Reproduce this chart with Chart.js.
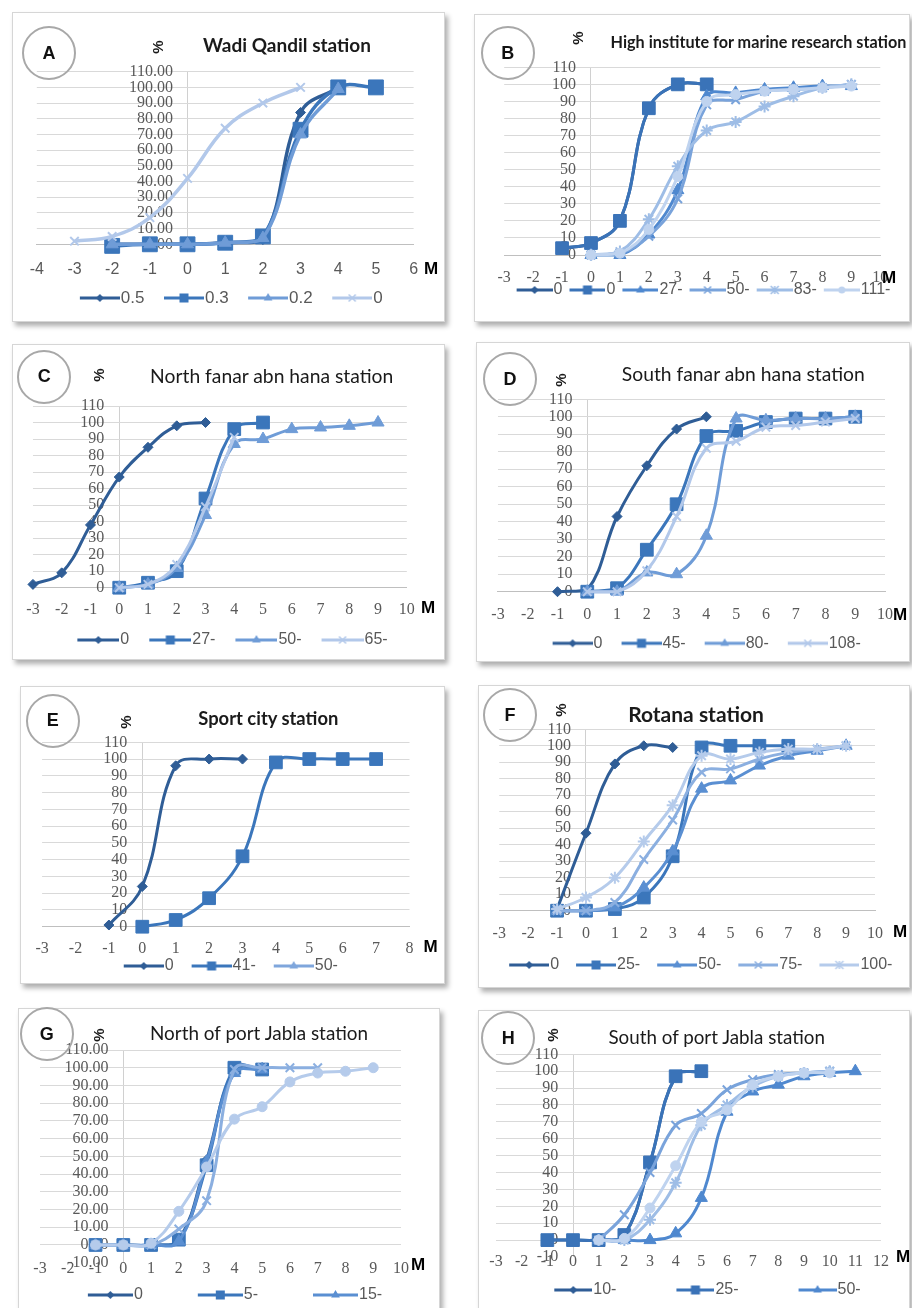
<!DOCTYPE html>
<html>
<head>
<meta charset="utf-8">
<script src="https://cdn.jsdelivr.net/npm/chart.js@4.4.1/dist/chart.umd.min.js"></script>
<style>
html,body{margin:0;padding:0;background:#fff;}
#page{position:relative;width:912px;height:1308px;overflow:hidden;background:#fff;}
.panel{position:absolute;background:#fff;border:1px solid #d6d6d6;box-shadow:3px 4px 5px rgba(0,0,0,0.32);box-sizing:border-box;}
canvas.plot{position:absolute;}
.deco{position:absolute;white-space:nowrap;transform:translate(-50%,-50%);line-height:1;color:#1a1a1a;}
.badge{position:absolute;border:2px solid #a8a8a8;border-radius:50%;box-sizing:border-box;display:flex;align-items:center;justify-content:center;font:bold 18px "Liberation Sans",Arial,sans-serif;color:#111;}
</style>
</head>
<body>
<div id="page"></div>
<script>
// ---------- data: percentage vs. distance (M) per station ----------

// A  Wadi Qandil station
const A_X    = [-3, -2, -1, 0, 1, 2, 3, 4, 5];
const A_05   = [null, 0, 0, 0, 1, 3, 84, 100, null];
const A_03   = [null, -1, 0, 0, 1, 5, 73, 100, 100];
const A_02   = [null, 0, 0, 0, 1, 4, 70, 99, null];
const A_00   = [2, 5, 17, 42, 74, 90, 100, null, null];

// B  High institute for marine research station
const B_X    = [-1, 0, 1, 2, 3, 4, 5, 6, 7, 8, 9];
const B_0a   = [4, 7, 20, 86, 100, 100, null, null, null, null, null];
const B_0b   = [4, 7, 20, 86, 100, 100, null, null, null, null, null];
const B_27   = [null, 0, 0, 12, 38, 93, 95, 97, 98, 99, 99];
const B_50   = [null, 0, 1, 11, 33, 88, 91, 96, 97, 98, 100];
const B_83   = [null, 0, 2, 21, 52, 73, 78, 87, 93, 98, 100];
const B_111  = [null, 0, 1, 15, 46, 90, 94, 96, 97, 98, 99];

// C  North fanar abn hana station
const C_X    = [-3, -2, -1, 0, 1, 2, 3, 4, 5, 6, 7, 8, 9];
const C_0    = [2, 9, 38, 67, 85, 98, 100, null, null, null, null, null, null];
const C_27   = [null, null, null, 0, 3, 10, 54, 96, 100, null, null, null, null];
const C_50   = [null, null, null, 0, 2, 12, 44, 87, 90, 96, 97, 98, 100];
const C_65   = [null, null, null, 0, 2, 14, 49, 91, null, null, null, null, null];

// D  South fanar abn hana station
const D_X    = [-1, 0, 1, 2, 3, 4, 5, 6, 7, 8, 9];
const D_0    = [0, 1, 43, 72, 93, 100, null, null, null, null, null];
const D_45   = [null, 0, 2, 24, 50, 89, 92, 97, 99, 99, 100];
const D_80   = [null, 0, 0, 11, 10, 32, 99, 98, 99, 99, 100];
const D_108  = [null, 0, 0, 12, 43, 82, 86, 94, 95, 97, 99];

// E  Sport city station
const E_X    = [-1, 0, 1, 2, 3, 4, 5, 6, 7];
const E_0    = [1, 24, 96, 100, 100, null, null, null, null];
const E_41   = [null, 0, 4, 17, 42, 98, 100, 100, 100];
const E_50   = [null, null, null, null, null, null, null, null, null];

// F  Rotana station
const F_X    = [-1, 0, 1, 2, 3, 4, 5, 6, 7, 8, 9];
const F_0    = [1, 47, 89, 100, 99, null, null, null, null, null, null];
const F_25   = [0, 0, 1, 8, 33, 99, 100, 100, 100, null, null];
const F_50   = [0, 0, 2, 14, 36, 74, 79, 88, 94, 97, 100];
const F_75   = [0, 0, 5, 31, 55, 84, 86, 92, 96, 98, 100];
const F_100  = [1, 8, 20, 42, 64, 94, 92, 96, 98, 98, 100];

// G  North of port Jabla station
const G_X    = [-1, 0, 1, 2, 3, 4, 5, 6, 7, 8, 9];
const G_0    = [null, 0, 0, 3, 48, 98, 100, null, null, null, null];
const G_5    = [0, 0, 0, 3, 45, 100, 99, null, null, null, null];
const G_15   = [0, 0, 0, 2, 47, 97, 99, null, null, null, null];
const G_S4   = [0, 0, 0, 9, 25, 99, 100, 100, 100, null, null];
const G_S5   = [0, 0, 1, 19, 44, 71, 78, 92, 97, 98, 100];

// H  South of port Jabla station
const H_X    = [-1, 0, 1, 2, 3, 4, 5, 6, 7, 8, 9, 10, 11];
const H_10   = [0, 0, 0, 3, 46, 97, 100, null, null, null, null, null, null];
const H_25   = [0, 0, 0, 3, 46, 97, 100, null, null, null, null, null, null];
const H_50   = [null, null, 0, 0, 0, 4, 25, 76, 88, 92, 97, 99, 100];
const H_S4   = [null, null, 0, 15, 40, 68, 75, 89, 95, 98, 99, 100, null];
const H_S5   = [null, null, 0, 0, 12, 34, 68, 80, 91, 97, 99, 100, null];
const H_S6   = [null, null, 0, 1, 19, 44, 70, 77, 92, 97, 99, 99, null];

// ---------- styling ----------
const PALETTE = {
  3: ['#2F5D96', '#3B76BB', '#7FA6DC'],
  4: ['#2F5D96', '#3B76BB', '#6F9CD7', '#B2C8EA'],
  5: ['#2F5D96', '#3B76BB', '#5A8FD2', '#8BAFE0', '#B5CBEB'],
  6: ['#2F5D96', '#3A73B8', '#4F88CF', '#79A3DB', '#9EBDE6', '#BFD3EF']
};
const MARK = ['rectRot', 'rect', 'triangle', 'crossRot', 'star', 'circle'];
const MARK_R = {rectRot: 5, rect: 9, triangle: 7, crossRot: 6, star: 6, circle: 5};

function pairs(xs, ys) {
  const out = [];
  xs.forEach((x, i) => { if (ys[i] !== null && ys[i] !== undefined) out.push({x: x, y: ys[i]}); });
  return out;
}

const PANELS = [
  {letter: 'A', box: [12, 12, 445, 322], x: [-4, 6], xpx: [27.6, 413.6], y: [0, 110], ypx: [244.3, 71.7], dec: 2,
   xSans: true, xLabelY: 270, leg: {cx: 231, cy: 298, ls: 40, gap: 19, fs: 17, n: 4},
   circ: [49, 53], pct: [157, 47], title: {t: 'Wadi Qandil station', x: 287, y: 44, size: 19, bold: true}, M: [431, 269],
   xs: A_X, series: [['0.5', A_05], ['0.3', A_03], ['0.2', A_02], ['0', A_00]], big: true},
  {letter: 'B', box: [474, 14, 910, 322], x: [-3, 10], xpx: [504.2, 880.3], y: [0, 110], ypx: [255, 67.3], dec: 0,
   xLabelY: 278, leg: {cx: 703.5, cy: 290, ls: 36, gap: 7, fs: 16, n: 6},
   circ: [507.7, 53.3], pct: [577, 38], title: {t: 'High institute for marine research station', x: 758.5, y: 41, size: 16.2, bold: true}, M: [889, 278],
   xs: B_X, series: [['0', B_0a], ['0', B_0b], ['27-', B_27], ['50-', B_50], ['83-', B_83], ['111-', B_111]]},
  {letter: 'C', box: [12, 344, 445, 660], x: [-3, 10], xpx: [31.75, 406.8], y: [0, 110], ypx: [587.7, 406], dec: 0,
   xLabelY: 610, leg: {cx: 232.5, cy: 640, ls: 42, gap: 20, fs: 16, n: 4},
   circ: [44.3, 376.7], pct: [98, 375], title: {t: 'North fanar abn hana station', x: 271.7, y: 375, size: 19.3, bold: false}, M: [428, 608],
   xs: C_X, series: [['0', C_0], ['27-', C_27], ['50-', C_50], ['65-', C_65]]},
  {letter: 'D', box: [476, 342, 910, 662], x: [-3, 10], xpx: [495, 885], y: [0, 110], ypx: [591.7, 399.3], dec: 0,
   xLabelY: 615, leg: {cx: 706.7, cy: 643.3, ls: 40, gap: 19, fs: 16, n: 4},
   circ: [510, 379], pct: [560, 380], title: {t: 'South fanar abn hana station', x: 743.3, y: 373.3, size: 19.3, bold: false}, M: [900, 615],
   xs: D_X, series: [['0', D_0], ['45-', D_45], ['80-', D_80], ['108-', D_108]]},
  {letter: 'E', box: [20, 686, 445, 984], x: [-3, 8], xpx: [42.1, 409.5], y: [0, 110], ypx: [926.7, 742.3], dec: 0,
   xLabelY: 948.3, leg: {cx: 230.8, cy: 966, ls: 40, gap: 18, fs: 16, n: 3},
   circ: [52.7, 720.7], pct: [125, 721.7], title: {t: 'Sport city station', x: 268.3, y: 717.7, size: 18.4, bold: true}, M: [430.7, 946.7],
   xs: E_X, series: [['0', E_0], ['41-', E_41], ['50-', E_50]]},
  {letter: 'F', box: [478, 685, 910, 988], x: [-3, 10], xpx: [498, 875], y: [0, 110], ypx: [910.7, 729.3], dec: 0,
   xLabelY: 933.3, leg: {cx: 700.8, cy: 965, ls: 40, gap: 17, fs: 16, n: 5},
   circ: [510, 715], pct: [560, 710], title: {t: 'Rotana station', x: 696, y: 713, size: 21, bold: true}, M: [900, 931.7],
   xs: F_X, series: [['0', F_0], ['25-', F_25], ['50-', F_50], ['75-', F_75], ['100-', F_100]]},
  {letter: 'G', box: [18, 1008, 440, 1322], x: [-3, 10], xpx: [40, 408.3], y: [-10, 110], ypx: [1262.7, 1050], dec: 2,
   xLabelY: 1268.3, leg: {cx: 235, cy: 1295, ls: 45, gap: 55, fs: 16, n: 3},
   circ: [46.7, 1034.3], pct: [98, 1035], title: {t: 'North of port Jabla station', x: 259, y: 1031.7, size: 18.9, bold: false}, M: [418, 1265],
   xs: G_X, series: [['0', G_0], ['5-', G_5], ['15-', G_15], ['S4', G_S4], ['S5', G_S5]], marks: ['rectRot', 'rect', 'triangle', 'crossRot', 'circle']},
  {letter: 'H', box: [478, 1010, 910, 1322], x: [-3, 12], xpx: [496, 886], y: [-10, 110], ypx: [1257, 1054.3], dec: 0,
   xLabelY: 1261.7, leg: {cx: 707.5, cy: 1290, ls: 38, gap: 60, fs: 16, n: 3},
   circ: [508.3, 1038.3], pct: [551.7, 1035], title: {t: 'South of port Jabla station', x: 716.7, y: 1035.7, size: 18.8, bold: false}, M: [903, 1256.7],
   xs: H_X, series: [['10-', H_10], ['25-', H_25], ['50-', H_50], ['S4', H_S4], ['S5', H_S5], ['S6', H_S6]]}
];

const page = document.getElementById('page');

function addDiv(cls, css, text) {
  const d = document.createElement('div');
  d.className = cls;
  Object.assign(d.style, css);
  if (text !== undefined) d.textContent = text;
  page.appendChild(d);
  return d;
}

// small legend key: line segment with the series marker in the middle
function legendKey(color, style, iw, ls, h) {
  const c = document.createElement('canvas');
  c.width = iw; c.height = h;
  const g = c.getContext('2d');
  const y = h / 2, x0 = iw - ls, xm = iw - ls / 2;
  g.strokeStyle = color; g.fillStyle = color; g.lineWidth = 3;
  g.beginPath(); g.moveTo(x0, y); g.lineTo(iw, y); g.stroke();
  g.lineWidth = 1.5;
  g.beginPath();
  if (style === 'rectRot') { const r = 4; g.moveTo(xm, y - r); g.lineTo(xm + r, y); g.lineTo(xm, y + r); g.lineTo(xm - r, y); g.closePath(); g.fill(); }
  else if (style === 'rect') { const r = 4.5; g.fillRect(xm - r, y - r, 2 * r, 2 * r); }
  else if (style === 'triangle') { const r = 5; g.moveTo(xm, y - r); g.lineTo(xm + r * 0.87, y + r * 0.5); g.lineTo(xm - r * 0.87, y + r * 0.5); g.closePath(); g.fill(); }
  else if (style === 'crossRot') { const r = 3.5; g.moveTo(xm - r, y - r); g.lineTo(xm + r, y + r); g.moveTo(xm + r, y - r); g.lineTo(xm - r, y + r); g.stroke(); }
  else if (style === 'star') { const r = 4; g.moveTo(xm - r, y - r); g.lineTo(xm + r, y + r); g.moveTo(xm + r, y - r); g.lineTo(xm - r, y + r); g.moveTo(xm, y - r); g.lineTo(xm, y + r); g.stroke(); }
  else if (style === 'circle') { g.arc(xm, y, 3.5, 0, Math.PI * 2); g.fill(); }
  return c;
}

PANELS.forEach(p => {
  const [bl, bt, br, bb] = p.box;
  const W = br - bl, H = bb - bt;
  const CH = H + 40;   // canvas runs a little past the frame so the legend never gets squeezed

  addDiv('panel', {left: bl + 'px', top: bt + 'px', width: W + 'px', height: H + 'px'});

  const cv = document.createElement('canvas');
  cv.className = 'plot';
  cv.width = W; cv.height = CH;
  Object.assign(cv.style, {left: bl + 'px', top: bt + 'px', width: W + 'px', height: CH + 'px'});
  page.appendChild(cv);

  // geometry of the plot area inside the canvas
  const L = p.leg, P = 4;
  // the visible legend row starts (gap - P) px after its nominal start
  const legCx = L.cx - (L.gap - P) / 2;
  const A1 = p.xpx[0] - bl, A2 = br - p.xpx[1];
  // legend spans [padL, W - padR]; side bands fill the rest up to the plot edges
  const D = 2 * legCx - bl - br;
  const padL = Math.max(0, D), padR = Math.max(0, -D);
  const wl = A1 - padL, wr = A2 - padR;
  const padT = p.ypx[1] - bt;
  const plotH = p.ypx[0] - p.ypx[1];
  const legendTop = L.cy - P - L.fs / 2;
  const xAxisH = legendTop - p.ypx[0];
  const legendH = L.fs + P + 10;
  const padB = Math.max(0, CH - padT - plotH - xAxisH - legendH);
  const xFs = 16;
  const xTickPad = p.xLabelY - p.ypx[0] - xFs / 2;
  const unitPx = (p.xpx[1] - p.xpx[0]) / (p.x[1] - p.x[0]);
  const yLabelGap = 15;

  const n = p.series.length;
  const colors = PALETTE[n];
  const marks = p.marks || MARK;

  const e = L.fs / 2 - 1;
  const iw = Math.round(L.ls - e + (L.gap - P) + 2 * e);
  const bw = iw - 2 * e;
  const keys = p.series.map((s, i) => legendKey(colors[i], marks[i], iw, L.ls, 16));

  const datasets = p.series.map((s, i) => {
    const st = marks[i];
    let r = MARK_R[st];
    if (p.big && st === 'rect') r = 10.5;
    return {
      label: s[0],
      data: pairs(p.xs, s[1]),
      borderColor: colors[i],
      backgroundColor: colors[i],
      borderWidth: p.big ? 3.5 : 3,
      tension: 0.4,
      pointStyle: st,
      pointRadius: r,
      pointBackgroundColor: colors[i],
      pointBorderColor: colors[i],
      pointBorderWidth: (st === 'crossRot' || st === 'star') ? 2 : 1,
      clip: false,
      order: -i,
      xAxisID: 'x',
      yAxisID: 'y'
    };
  });

  const gridColor = '#d9d9d9';
  const scales = {
    x: {
      type: 'linear', axis: 'x', position: {y: p.y[0]},
      min: p.x[0], max: p.x[1],
      // only the vertical line at M = 0 (the value axis) is drawn
      grid: {display: true, drawTicks: false, lineWidth: 1,
             color: c => (c.tick && c.tick.value === 0) ? '#d0d0d0' : 'rgba(0,0,0,0)'},
      border: {display: p.y[0] === 0, color: '#bfbfbf', width: 1},
      ticks: {
        stepSize: 1, autoSkip: false, maxRotation: 0, minRotation: 0,
        padding: xTickPad, color: '#595959',
        font: {family: p.xSans ? '"Liberation Sans", Arial, sans-serif' : '"Liberation Serif", "Times New Roman", serif', size: xFs, lineHeight: 1}
      }
    },
    y: {
      type: 'linear', axis: 'y', position: {x: -yLabelGap / unitPx},
      min: p.y[0], max: p.y[1],
      grid: {color: c => (c.tick && c.tick.value < 0) ? 'rgba(0,0,0,0)' : gridColor, drawTicks: false, lineWidth: 1},
      border: {display: false},
      ticks: {
        stepSize: 10, autoSkip: false, padding: 0, color: '#595959',
        font: {family: '"Liberation Serif", "Times New Roman", serif', size: 16, lineHeight: 1},
        callback: v => Number(v).toFixed(p.dec)
      }
    },
    // empty band under the plot that holds the space of the tick labels
    spaceB: {
      type: 'linear', axis: 'x', position: 'bottom', display: true,
      grid: {display: false}, border: {display: false}, ticks: {display: false},
      afterFit: s => { s.height = xAxisH; }
    }
  };
  const spacer = w => ({
    type: 'linear', axis: 'y', display: true,
    grid: {display: false}, border: {display: false}, ticks: {display: false},
    afterFit: s => { s.width = w; }
  });
  if (wl > 0) scales.spaceL = Object.assign(spacer(wl), {position: 'left'});
  if (wr > 0) scales.spaceR = Object.assign(spacer(wr), {position: 'right'});

  new Chart(cv.getContext('2d'), {
    type: 'line',
    data: {datasets: datasets},
    options: {
      responsive: false,
      devicePixelRatio: 1,
      animation: false,
      events: [],
      layout: {padding: {left: padL, right: padR, top: padT, bottom: padB}},
      scales: scales,
      plugins: {
        tooltip: {enabled: false},
        title: {display: false},
        legend: {
          display: true, position: 'bottom', align: 'center',
          labels: {
            usePointStyle: true, pointStyleWidth: bw, boxHeight: L.fs, padding: P,
            color: '#595959',
            font: {family: '"Liberation Sans", Arial, sans-serif', size: L.fs, lineHeight: 1},
            filter: it => it.datasetIndex < L.n,
            sort: (a, b) => a.datasetIndex - b.datasetIndex,
            generateLabels: chart => {
              const items = Chart.defaults.plugins.legend.labels.generateLabels(chart);
              items.forEach(it => { it.pointStyle = keys[it.datasetIndex]; });
              return items;
            }
          }
        }
      }
    }
  });

  // panel annotations
  const r = 27;
  addDiv('badge', {left: (p.circ[0] - r) + 'px', top: (p.circ[1] - r) + 'px', width: 2 * r + 'px', height: 2 * r + 'px'}, p.letter);
  addDiv('deco', {left: p.pct[0] + 'px', top: p.pct[1] + 'px', font: 'bold 15px "Liberation Sans", Arial, sans-serif', transform: 'translate(-50%,-50%) rotate(-90deg)'}, '%');
  addDiv('deco', {left: p.title.x + 'px', top: p.title.y + 'px', font: (p.title.bold ? 'bold ' : '') + p.title.size + 'px Lato, "Open Sans", sans-serif'}, p.title.t);
  addDiv('deco', {left: p.M[0] + 'px', top: p.M[1] + 'px', font: 'bold 17px "Liberation Sans", Arial, sans-serif', color: '#000'}, 'M');
});
</script>
</body>
</html>
